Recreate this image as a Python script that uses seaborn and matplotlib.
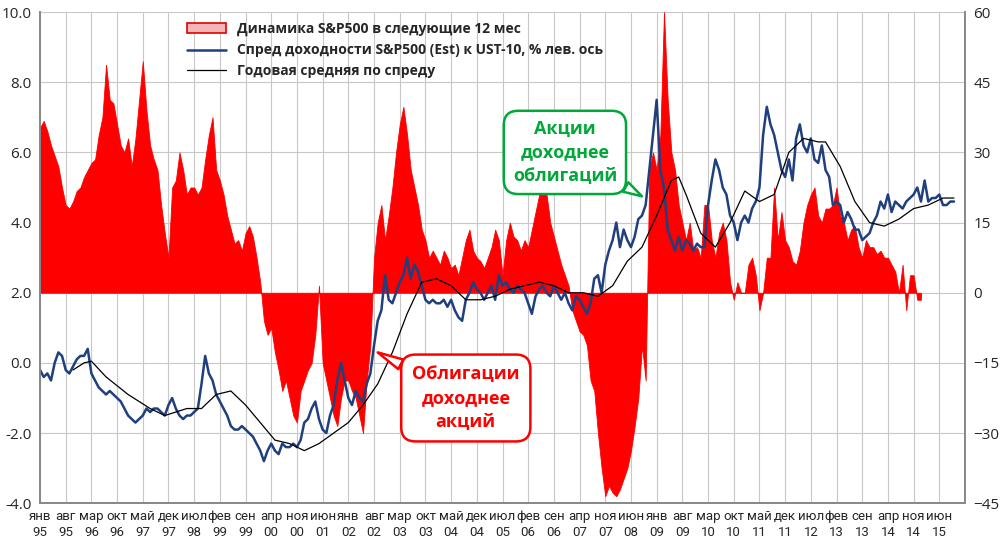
import matplotlib
matplotlib.use("Agg")
import matplotlib.pyplot as plt
import seaborn as sns
import numpy as np
import pandas as pd
from matplotlib.patches import Patch
from matplotlib.lines import Line2D

sns.set_theme(style="white")
plt.rcParams['font.family'] = ['Open Sans', 'DejaVu Sans']

# month index 0 = Jan 1995
# S&P500 change over the next 12 months, % (right axis), read in left-axis units then converted
sp_left = [6.7,6.9,6.6,6.2,5.9,5.6,5.0,4.5,4.4,4.6,4.9,5.0,5.3,5.5,5.7,5.8,6.5,7.0,8.5,7.5,
           7.4,6.8,6.2,6.0,6.4,5.6,6.4,7.5,8.6,7.2,6.2,5.8,5.5,4.5,3.7,3.0,5.0,5.2,6.0,5.5,
           4.8,5.0,5.0,4.8,5.0,5.8,6.5,7.0,5.5,5.2,4.8,4.2,3.8,3.4,3.5,3.2,3.7,3.9,3.6,3.0,
           2.3,1.2,0.8,1.0,0.3,-0.2,-0.8,-0.5,-1.0,-1.5,-1.7,-0.8,-0.5,-0.2,0.0,0.8,2.2,0.0,-0.5,-1.0,
           -1.5,-1.8,-1.0,-0.5,-0.5,-0.8,-1.0,-1.5,-2.0,-0.5,0.5,3.0,4.0,4.5,3.5,4.2,5.0,6.0,6.8,7.3,
           6.5,5.5,5.0,4.5,3.8,3.5,3.0,3.2,3.0,2.8,3.2,3.0,2.7,2.8,2.5,3.0,3.5,3.8,3.2,3.0,
           2.9,2.7,3.0,3.3,3.8,3.5,2.5,3.5,4.0,3.6,3.5,3.2,3.5,3.3,3.8,4.3,4.8,5.0,4.8,4.0,
           3.6,3.2,2.8,2.5,2.2,1.5,1.2,0.9,0.8,0.5,-0.5,-0.8,-2.0,-3.0,-3.8,-3.5,-3.7,-3.8,-3.6,-3.3,
           -3.0,-2.5,-1.8,-1.0,0.5,-0.5,5.5,6.0,5.5,6.5,10.0,7.5,6.0,5.5,4.5,4.0,3.5,4.0,3.2,3.3,
           3.0,4.5,4.5,3.5,3.0,3.7,4.0,3.5,2.3,1.8,2.3,2.0,2.0,2.8,3.0,2.5,1.5,2.0,3.0,3.0,
           5.0,3.5,4.3,3.5,3.3,2.9,2.8,3.2,4.0,4.5,4.8,5.0,4.2,4.0,4.4,4.4,4.5,5.0,4.2,4.0,
           3.5,3.8,3.9,3.3,3.0,3.5,3.3,3.3,3.1,3.2,3.0,3.0,2.8,2.6,2.0,2.8,1.5,2.5,2.5,1.8,1.8]
sp_return = [(v - 2.0) * 7.5 for v in sp_left]

# Spread S&P500 (Est) earnings yield vs UST-10, %
spread = [-0.2,-0.4,-0.3,-0.5,0.0,0.3,0.2,-0.2,-0.3,-0.1,0.1,0.2,0.2,0.4,-0.3,-0.5,-0.7,-0.8,-0.9,-0.8,
          -0.9,-1.0,-1.1,-1.3,-1.5,-1.6,-1.7,-1.6,-1.5,-1.3,-1.4,-1.3,-1.3,-1.4,-1.5,-1.2,-1.0,-1.3,-1.5,-1.6,
          -1.5,-1.5,-1.4,-1.3,-0.6,0.2,-0.3,-0.5,-0.9,-1.1,-1.3,-1.5,-1.8,-1.9,-1.9,-1.8,-1.9,-2.0,-2.1,-2.3,
          -2.5,-2.8,-2.5,-2.3,-2.5,-2.6,-2.3,-2.4,-2.4,-2.3,-2.4,-2.2,-1.7,-1.6,-1.3,-1.1,-1.6,-1.9,-2.0,-1.5,
          -1.2,-0.5,0.0,-0.5,-1.0,-1.2,-0.8,-1.0,-1.1,-0.6,-0.3,0.5,1.2,1.5,2.5,1.8,1.7,2.0,2.3,2.5,
          3.0,2.4,2.8,2.6,2.2,1.8,1.7,1.8,1.7,1.7,1.8,1.6,1.8,1.5,1.3,1.2,1.8,2.0,2.3,2.1,
          2.0,1.8,2.0,2.2,1.8,2.5,2.2,2.3,2.1,2.0,2.2,2.1,2.0,1.7,1.4,1.9,2.1,2.2,2.0,1.9,
          2.2,2.0,1.8,2.0,1.7,1.5,1.9,1.8,1.6,1.4,1.7,2.4,2.5,2.0,2.8,3.2,3.5,4.0,3.3,3.8,
          3.5,3.3,3.6,4.1,4.2,4.5,5.5,6.5,7.5,5.5,5.0,3.8,3.5,3.2,3.6,3.2,3.5,3.4,3.2,3.4,
          3.3,3.3,4.5,5.2,5.8,5.5,5.0,4.8,4.2,4.0,3.5,4.0,4.2,4.0,4.4,4.6,5.0,6.5,7.3,6.8,
          6.5,6.0,5.5,5.3,5.8,5.2,6.4,6.8,6.2,6.0,6.4,5.8,5.7,6.2,5.5,5.3,4.5,4.6,4.5,4.0,
          4.3,4.1,3.8,3.8,3.5,3.6,3.7,4.0,4.2,4.6,4.4,4.8,4.3,4.6,4.5,4.4,4.6,4.7,4.8,5.0,
          4.6,5.2,4.6,4.7,4.7,4.8,4.5,4.5,4.6,4.6]

# Annual moving average of the spread (sampled months)
ma_months = [9,12,14,18,24,30,34,40,44,48,52,56,60,64,68,72,76,80,84,88,92,96,100,104,108,112,116,120,
             124,128,132,136,140,144,148,152,156,160,164,168,172,174,176,180,184,188,192,196,200,204,
             208,212,214,218,222,226,230,234,238,242,246,249]
ma_values = [-0.2,0.0,0.05,-0.4,-0.9,-1.3,-1.5,-1.3,-1.3,-0.9,-0.8,-1.2,-1.7,-2.2,-2.3,-2.5,-2.3,-2.0,
             -1.7,-1.2,-0.6,0.3,1.4,2.3,2.4,2.2,1.8,1.8,1.9,2.1,2.2,2.3,2.2,2.0,2.0,1.9,2.2,2.9,3.3,
             4.2,5.2,5.3,4.8,3.7,3.3,4.0,4.9,4.6,4.8,6.0,6.4,6.3,6.3,5.6,4.6,4.0,3.9,4.1,4.4,4.5,4.7,4.7]

month_names = ["янв","фев","мар","апр","май","июн","июл","авг","сен","окт","ноя","дек"]
tick_pos = list(range(0, 246, 7))
tick_labels = [f"{month_names[p % 12]}\n{(95 + p // 12) % 100:02d}" for p in tick_pos]

fig = plt.figure(figsize=(10, 5.5), dpi=100)
ax = fig.add_axes([0.04, 0.085, 0.925, 0.893])
ax2 = ax.twinx()

sp_m = np.arange(len(sp_return))
ax2.fill_between(sp_m, 0, sp_return, color="#FF0000", lw=0.6, ec="#FF0000")
ax2.set_ylim(-45, 60)
ax2.set_yticks(range(-45, 61, 15))
ax2.tick_params(axis="y", labelsize=11, length=0, pad=6)

df_s = pd.DataFrame({"m": np.arange(len(spread)), "v": spread})
df_ma = pd.DataFrame({"m": ma_months, "v": ma_values})
sns.lineplot(data=df_s, x="m", y="v", ax=ax, color="#1F3F7F", lw=1.8)
sns.lineplot(data=df_ma, x="m", y="v", ax=ax, color="black", lw=0.9)

ax.set_zorder(ax2.zorder + 1)
ax.patch.set_visible(False)
ax2.set_zorder(0)

ax.set_xlim(0, 252)
ax.set_ylim(-4, 10)
ax.set_yticks(np.arange(-4, 10.01, 2))
ax.set_yticklabels([f"{v:.1f}" for v in np.arange(-4, 10.01, 2)])
ax.set_xticks(tick_pos)
ax.set_xticklabels(tick_labels, fontsize=9.5, linespacing=1.25,
                   family=['Liberation Sans Narrow', 'Roboto', 'DejaVu Sans'])
ax.tick_params(axis="y", labelsize=11, length=0, pad=6)
ax.tick_params(axis="x", length=0, pad=5)
ax.set_xlabel(""); ax.set_ylabel("")

for p in tick_pos:
    ax2.axvline(p, color="#C8C8C8", lw=0.8, zorder=0)
for v in np.arange(-4, 10.01, 2):
    ax2.axhline((v - 2) * 7.5, color="#C8C8C8", lw=0.8, zorder=0)
for a in (ax, ax2):
    a.spines["top"].set_visible(False)
    for s in ["left", "right", "bottom"]:
        a.spines[s].set_color("#888888")

handles = [Patch(fc="#F4B6B6", ec="#E00000", lw=1.2),
           Line2D([], [], color="#1F3F7F", lw=1.8),
           Line2D([], [], color="black", lw=0.9)]
labels = ["Динамика S&P500 в следующие 12 мес",
          "Спред доходности S&P500 (Est) к UST-10, % лев. ось",
          "Годовая средняя по спреду"]
leg = ax.legend(handles, labels, loc="upper left", bbox_to_anchor=(0.145, 1.005),
                frameon=False, fontsize=10, handlelength=2.8, labelspacing=0.5)
for t in leg.get_texts():
    t.set_fontweight("bold")

ax.annotate("Акции\nдоходнее\nоблигаций", xy=(164, 4.75), xytext=(143, 6.0),
            ha="center", va="center", fontsize=13, fontweight="bold", color="#00A83A",
            linespacing=1.4,
            bbox=dict(boxstyle="round,pad=0.5,rounding_size=0.8", fc="white", ec="#00A83A", lw=1.8),
            arrowprops=dict(arrowstyle="wedge,tail_width=0.6", fc="white", ec="#00A83A", lw=1.8,
                            shrinkA=0, shrinkB=0))
ax.annotate("Облигации\nдоходнее\nакций", xy=(92, 0.3), xytext=(116, -1.0),
            ha="center", va="center", fontsize=13, fontweight="bold", color="#FF0000",
            linespacing=1.4,
            bbox=dict(boxstyle="round,pad=0.6,rounding_size=0.8", fc="white", ec="#FF0000", lw=1.8),
            arrowprops=dict(arrowstyle="wedge,tail_width=0.6", fc="white", ec="#FF0000", lw=1.8,
                            shrinkA=0, shrinkB=0))

fig.savefig("out.png", dpi=100)
